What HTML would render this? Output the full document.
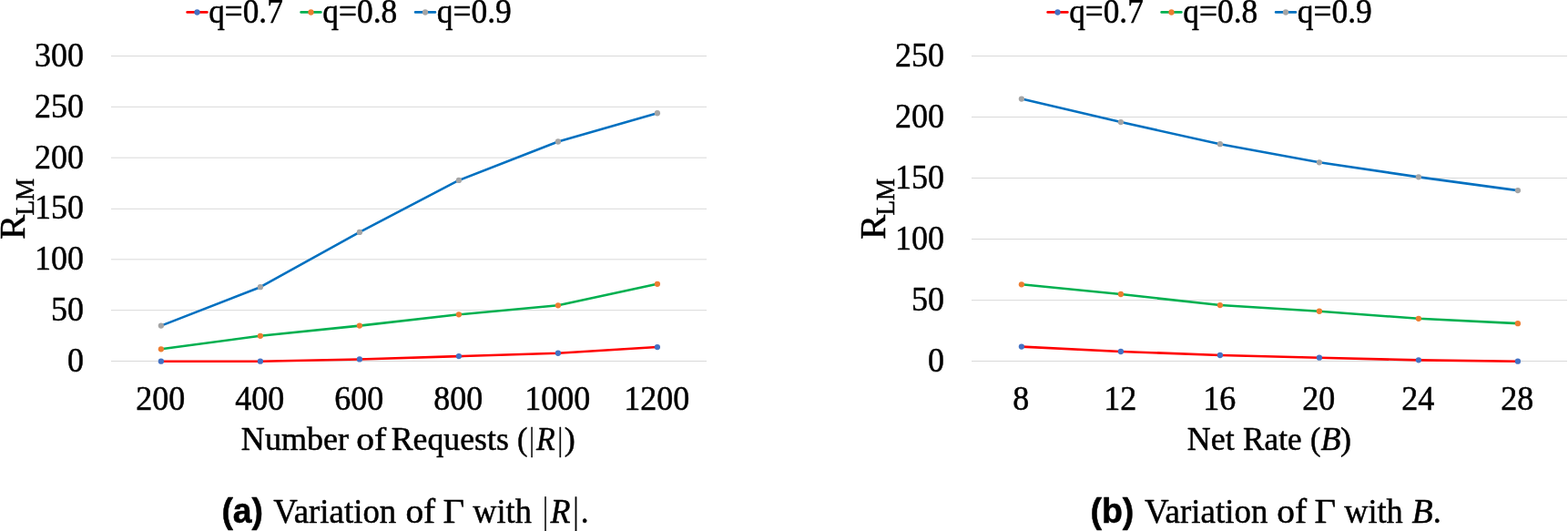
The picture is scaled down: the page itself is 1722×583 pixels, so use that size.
<!DOCTYPE html>
<html lang="en">
<head>
<meta charset="utf-8">
<title>Variation of Γ with |R| and B</title>
<style>
html,body{margin:0;padding:0;background:#fff;}
body{width:1722px;height:583px;overflow:hidden;}
svg{display:block;font-family:"Liberation Serif",serif;fill:#000;}
text{stroke:#000;stroke-width:0.5px;stroke-linejoin:round;white-space:pre;}
</style>
</head>
<body>
<svg width="1722" height="583" viewBox="0 0 1722 583" role="img">
<rect x="0" y="0" width="1722" height="583" fill="#ffffff"/>
<g transform="translate(0,0)">
<g stroke="#D9D9D9" stroke-width="1">
<line x1="122" x2="776" y1="396.5" y2="396.5"/>
<line x1="122" x2="776" y1="340.67" y2="340.67"/>
<line x1="122" x2="776" y1="284.83" y2="284.83"/>
<line x1="122" x2="776" y1="229.3" y2="229.3"/>
<line x1="122" x2="776" y1="173.17" y2="173.17"/>
<line x1="122" x2="776" y1="117.33" y2="117.33"/>
<line x1="122" x2="776" y1="61.5" y2="61.5"/>
</g>
<g>
<text x="38.08" y="72.9" font-size="37.44" textLength="54" lengthAdjust="spacingAndGlyphs">300</text>
<text x="38.08" y="128.73" font-size="37.44" textLength="54" lengthAdjust="spacingAndGlyphs">250</text>
<text x="38.08" y="184.57" font-size="37.44" textLength="54" lengthAdjust="spacingAndGlyphs">200</text>
<text x="38.08" y="240.4" font-size="37.44" textLength="54" lengthAdjust="spacingAndGlyphs">150</text>
<text x="38.08" y="296.23" font-size="37.44" textLength="54" lengthAdjust="spacingAndGlyphs">100</text>
<text x="56.08" y="352.07" font-size="37.44" textLength="36" lengthAdjust="spacingAndGlyphs">50</text>
<text x="74.08" y="407.9" font-size="37.44" textLength="18" lengthAdjust="spacingAndGlyphs">0</text>
</g>
<g>
<text x="149.2" y="449.85" font-size="37.44" textLength="54" lengthAdjust="spacingAndGlyphs">200</text>
<text x="258.2" y="449.85" font-size="37.44" textLength="54" lengthAdjust="spacingAndGlyphs">400</text>
<text x="367.2" y="449.85" font-size="37.44" textLength="54" lengthAdjust="spacingAndGlyphs">600</text>
<text x="476.2" y="449.85" font-size="37.44" textLength="54" lengthAdjust="spacingAndGlyphs">800</text>
<text x="576.2" y="449.85" font-size="37.44" textLength="72" lengthAdjust="spacingAndGlyphs">1000</text>
<text x="685.2" y="449.85" font-size="37.44" textLength="72" lengthAdjust="spacingAndGlyphs">1200</text>
</g>
<path d="M176.9,396.7 L285.9,396.7 L394.9,394.47 L503.9,391.12 L612.9,387.77 L721.9,381.07" fill="none" stroke="#FF0000" stroke-width="2.6" stroke-linejoin="round" stroke-linecap="round"/>
<g fill="#4472C4"><circle cx="176.9" cy="396.7" r="3.15"/><circle cx="285.9" cy="396.7" r="3.15"/><circle cx="394.9" cy="394.47" r="3.15"/><circle cx="503.9" cy="391.12" r="3.15"/><circle cx="612.9" cy="387.77" r="3.15"/><circle cx="721.9" cy="381.07" r="3.15"/></g>
<path d="M176.9,383.3 L285.9,368.78 L394.9,357.62 L503.9,345.33 L612.9,335.28 L721.9,311.83" fill="none" stroke="#00B050" stroke-width="2.6" stroke-linejoin="round" stroke-linecap="round"/>
<g fill="#ED7D31"><circle cx="176.9" cy="383.3" r="3.15"/><circle cx="285.9" cy="368.78" r="3.15"/><circle cx="394.9" cy="357.62" r="3.15"/><circle cx="503.9" cy="345.33" r="3.15"/><circle cx="612.9" cy="335.28" r="3.15"/><circle cx="721.9" cy="311.83" r="3.15"/></g>
<path d="M176.9,357.62 L285.9,315.18 L394.9,254.88 L503.9,197.93 L612.9,155.5 L721.9,124.23" fill="none" stroke="#0070C0" stroke-width="2.6" stroke-linejoin="round" stroke-linecap="round"/>
<g fill="#A5A5A5"><circle cx="176.9" cy="357.62" r="3.15"/><circle cx="285.9" cy="315.18" r="3.15"/><circle cx="394.9" cy="254.88" r="3.15"/><circle cx="503.9" cy="197.93" r="3.15"/><circle cx="612.9" cy="155.5" r="3.15"/><circle cx="721.9" cy="124.23" r="3.15"/></g>
<g>
<line x1="205.6" x2="227.4" y1="13.4" y2="13.4" stroke="#FF0000" stroke-width="2.6" stroke-linecap="round"/>
<circle cx="216.5" cy="13.5" r="3.15" fill="#4472C4"/>
<text x="229.25" y="25" font-size="37.08" textLength="81.5" lengthAdjust="spacingAndGlyphs">q=0.7</text>
<line x1="330.6" x2="352.4" y1="13.4" y2="13.4" stroke="#00B050" stroke-width="2.6" stroke-linecap="round"/>
<circle cx="341.5" cy="13.5" r="3.15" fill="#ED7D31"/>
<text x="354.24" y="25" font-size="37.08" textLength="82.07" lengthAdjust="spacingAndGlyphs">q=0.8</text>
<line x1="456.1" x2="477.9" y1="13.4" y2="13.4" stroke="#0070C0" stroke-width="2.6" stroke-linecap="round"/>
<circle cx="467" cy="13.5" r="3.15" fill="#A5A5A5"/>
<text x="479.74" y="25" font-size="37.08" textLength="82.07" lengthAdjust="spacingAndGlyphs">q=0.9</text>
</g>
<text><tspan x="264.89" y="494.05" font-size="36" textLength="118.14" lengthAdjust="spacingAndGlyphs">Number</tspan> <tspan x="391.21" y="494.05" font-size="36" textLength="33.01" lengthAdjust="spacingAndGlyphs">of</tspan> <tspan x="429.79" y="494.05" font-size="36" textLength="129.02" lengthAdjust="spacingAndGlyphs">Requests</tspan> <tspan x="567.88" y="494.05" font-size="36" textLength="11.37" lengthAdjust="spacingAndGlyphs">(</tspan><tspan x="581.6" y="494.05" font-size="36" textLength="5.12" lengthAdjust="spacingAndGlyphs">|</tspan><tspan x="588.98" y="494.05" font-size="36" textLength="20.62" lengthAdjust="spacingAndGlyphs" font-style="italic">R</tspan><tspan x="612.75" y="494.05" font-size="36" textLength="5.13" lengthAdjust="spacingAndGlyphs">|</tspan><tspan x="619.72" y="494.05" font-size="36" textLength="12.04" lengthAdjust="spacingAndGlyphs">)</tspan></text>
<text transform="translate(27,263.1) rotate(-90)" font-size="41">R<tspan x="26.5" y="10.1" font-size="28.7" textLength="40.55" lengthAdjust="spacingAndGlyphs">LM</tspan></text>
<text><tspan x="243.4" y="573.6" font-size="38.34" textLength="45.6" lengthAdjust="spacingAndGlyphs" font-family='"Liberation Sans", sans-serif' font-weight="bold">(a)</tspan> <tspan x="300.25" y="573.5" font-size="37.3" textLength="135" lengthAdjust="spacingAndGlyphs">Variation</tspan> <tspan x="445.42" y="573.5" font-size="37.3" textLength="32.81" lengthAdjust="spacingAndGlyphs">of</tspan> <tspan x="486.61" y="573.5" font-size="38.42" textLength="23.61" lengthAdjust="spacingAndGlyphs">Γ</tspan> <tspan x="519.35" y="573.5" font-size="37.3" textLength="64.5" lengthAdjust="spacingAndGlyphs">with</tspan> <tspan x="596.35" y="574.51" font-size="41.55" textLength="5.45" lengthAdjust="spacingAndGlyphs">|</tspan><tspan x="604.61" y="573.5" font-size="38.42" textLength="21.99" lengthAdjust="spacingAndGlyphs" font-style="italic">R</tspan><tspan x="629.65" y="574.51" font-size="41.55" textLength="5.45" lengthAdjust="spacingAndGlyphs">|</tspan><tspan x="637.65" y="573.5" font-size="38.42" textLength="8.8" lengthAdjust="spacingAndGlyphs">.</tspan></text>
</g>
<g transform="translate(945,0)">
<g stroke="#D9D9D9" stroke-width="1">
<line x1="122" x2="776" y1="396.5" y2="396.5"/>
<line x1="122" x2="776" y1="329.65" y2="329.65"/>
<line x1="122" x2="776" y1="262.5" y2="262.5"/>
<line x1="122" x2="776" y1="195.5" y2="195.5"/>
<line x1="122" x2="776" y1="128.5" y2="128.5"/>
<line x1="122" x2="776" y1="61.5" y2="61.5"/>
</g>
<g>
<text x="38.08" y="72.9" font-size="37.44" textLength="54" lengthAdjust="spacingAndGlyphs">250</text>
<text x="38.08" y="139.9" font-size="37.44" textLength="54" lengthAdjust="spacingAndGlyphs">200</text>
<text x="38.08" y="206.9" font-size="37.44" textLength="54" lengthAdjust="spacingAndGlyphs">150</text>
<text x="38.08" y="273.9" font-size="37.44" textLength="54" lengthAdjust="spacingAndGlyphs">100</text>
<text x="56.08" y="340.9" font-size="37.44" textLength="36" lengthAdjust="spacingAndGlyphs">50</text>
<text x="74.08" y="407.9" font-size="37.44" textLength="18" lengthAdjust="spacingAndGlyphs">0</text>
</g>
<g>
<text x="167.2" y="449.85" font-size="37.44" textLength="18" lengthAdjust="spacingAndGlyphs">8</text>
<text x="267.2" y="449.85" font-size="37.44" textLength="36" lengthAdjust="spacingAndGlyphs">12</text>
<text x="376.2" y="449.85" font-size="37.44" textLength="36" lengthAdjust="spacingAndGlyphs">16</text>
<text x="485.2" y="449.85" font-size="37.44" textLength="36" lengthAdjust="spacingAndGlyphs">20</text>
<text x="594.2" y="449.85" font-size="37.44" textLength="36" lengthAdjust="spacingAndGlyphs">24</text>
<text x="703.2" y="449.85" font-size="37.44" textLength="36" lengthAdjust="spacingAndGlyphs">28</text>
</g>
<path d="M176.9,380.62 L285.9,385.98 L394.9,390 L503.9,392.68 L612.9,395.36 L721.9,396.7" fill="none" stroke="#FF0000" stroke-width="2.6" stroke-linejoin="round" stroke-linecap="round"/>
<g fill="#4472C4"><circle cx="176.9" cy="380.62" r="3.15"/><circle cx="285.9" cy="385.98" r="3.15"/><circle cx="394.9" cy="390" r="3.15"/><circle cx="503.9" cy="392.68" r="3.15"/><circle cx="612.9" cy="395.36" r="3.15"/><circle cx="721.9" cy="396.7" r="3.15"/></g>
<path d="M176.9,312.28 L285.9,323 L394.9,335.06 L503.9,341.76 L612.9,349.8 L721.9,355.16" fill="none" stroke="#00B050" stroke-width="2.6" stroke-linejoin="round" stroke-linecap="round"/>
<g fill="#ED7D31"><circle cx="176.9" cy="312.28" r="3.15"/><circle cx="285.9" cy="323" r="3.15"/><circle cx="394.9" cy="335.06" r="3.15"/><circle cx="503.9" cy="341.76" r="3.15"/><circle cx="612.9" cy="349.8" r="3.15"/><circle cx="721.9" cy="355.16" r="3.15"/></g>
<path d="M176.9,108.6 L285.9,134.06 L394.9,158.18 L503.9,178.28 L612.9,194.36 L721.9,209.1" fill="none" stroke="#0070C0" stroke-width="2.6" stroke-linejoin="round" stroke-linecap="round"/>
<g fill="#A5A5A5"><circle cx="176.9" cy="108.6" r="3.15"/><circle cx="285.9" cy="134.06" r="3.15"/><circle cx="394.9" cy="158.18" r="3.15"/><circle cx="503.9" cy="178.28" r="3.15"/><circle cx="612.9" cy="194.36" r="3.15"/><circle cx="721.9" cy="209.1" r="3.15"/></g>
<g>
<line x1="205.6" x2="227.4" y1="13.4" y2="13.4" stroke="#FF0000" stroke-width="2.6" stroke-linecap="round"/>
<circle cx="216.5" cy="13.5" r="3.15" fill="#4472C4"/>
<text x="229.25" y="25" font-size="37.08" textLength="81.5" lengthAdjust="spacingAndGlyphs">q=0.7</text>
<line x1="330.6" x2="352.4" y1="13.4" y2="13.4" stroke="#00B050" stroke-width="2.6" stroke-linecap="round"/>
<circle cx="341.5" cy="13.5" r="3.15" fill="#ED7D31"/>
<text x="354.24" y="25" font-size="37.08" textLength="82.07" lengthAdjust="spacingAndGlyphs">q=0.8</text>
<line x1="456.1" x2="477.9" y1="13.4" y2="13.4" stroke="#0070C0" stroke-width="2.6" stroke-linecap="round"/>
<circle cx="467" cy="13.5" r="3.15" fill="#A5A5A5"/>
<text x="479.74" y="25" font-size="37.08" textLength="82.07" lengthAdjust="spacingAndGlyphs">q=0.9</text>
</g>
<text><tspan x="358.79" y="494.05" font-size="36" textLength="51.84" lengthAdjust="spacingAndGlyphs">Net</tspan> <tspan x="420.1" y="494.05" font-size="36" textLength="64.42" lengthAdjust="spacingAndGlyphs">Rate</tspan> <tspan x="493.98" y="494.05" font-size="36" textLength="11.37" lengthAdjust="spacingAndGlyphs">(</tspan><tspan x="505.55" y="494.05" font-size="36" textLength="22.02" lengthAdjust="spacingAndGlyphs" font-style="italic">B</tspan><tspan x="527.02" y="494.05" font-size="36" textLength="12.04" lengthAdjust="spacingAndGlyphs">)</tspan></text>
<text transform="translate(27,263.1) rotate(-90)" font-size="41">R<tspan x="26.5" y="10.1" font-size="28.7" textLength="40.55" lengthAdjust="spacingAndGlyphs">LM</tspan></text>
<text><tspan x="252.39" y="573.6" font-size="38.34" textLength="48.02" lengthAdjust="spacingAndGlyphs" font-family='"Liberation Sans", sans-serif' font-weight="bold">(b)</tspan> <tspan x="312.05" y="573.5" font-size="37.3" textLength="135.3" lengthAdjust="spacingAndGlyphs">Variation</tspan> <tspan x="457.22" y="573.5" font-size="37.3" textLength="32.81" lengthAdjust="spacingAndGlyphs">of</tspan> <tspan x="498.61" y="573.5" font-size="38.42" textLength="23.61" lengthAdjust="spacingAndGlyphs">Γ</tspan> <tspan x="531.25" y="573.5" font-size="37.3" textLength="64.5" lengthAdjust="spacingAndGlyphs">with</tspan> <tspan x="605.45" y="573.5" font-size="38.42" textLength="23.15" lengthAdjust="spacingAndGlyphs" font-style="italic">B</tspan><tspan x="628.8" y="573.5" font-size="38.42" textLength="9" lengthAdjust="spacingAndGlyphs">.</tspan></text>
</g>
</svg>
</body>
</html>
